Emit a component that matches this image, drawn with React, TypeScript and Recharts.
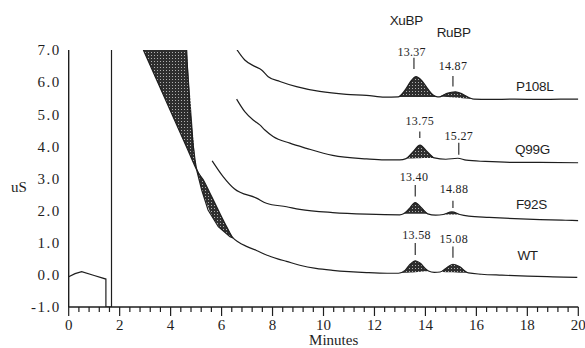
import { ComposedChart, Line, Area, XAxis, YAxis, ReferenceLine, ReferenceDot } from 'recharts'

type Pt = [number, number]
type Band = [number, number, number]

const yTicks = [-1, 0, 1, 2, 3, 4, 5, 6, 7]
const xMajorTicks = [0, 2, 4, 6, 8, 10, 12, 14, 16, 18, 20]

// WT trace: injection dip and the spike that runs off the top
const wtStart: Pt[] = [
  [0, -0.06], [0.25, 0.04], [0.51, 0.1], [1.0, -0.02], [1.46, -0.13],
  [1.46, -1.0], [1.68, -1.0], [1.68, 7.6],
]

// WT trace after it comes back down (right edge of the wedge)
const wtTrace: Pt[] = [
  [4.6, 7.6], [4.63, 7.0], [4.95, 3.63], [5.02, 3.3], [5.28, 2.96], [5.61, 2.44],
  [5.93, 1.92], [6.2, 1.5], [6.45, 1.15], [6.64, 1.03], [7.0, 0.88], [7.37, 0.76],
  [7.76, 0.62], [8.2, 0.5], [8.55, 0.42], [9.07, 0.3], [9.7, 0.2], [10.36, 0.14],
  [11.0, 0.1], [11.69, 0.07], [12.5, 0.05], [12.94, 0.05], [13.2, 0.14], [13.4, 0.33],
  [13.6, 0.44], [13.8, 0.36], [14.0, 0.19], [14.12, 0.12], [14.35, 0.08], [14.58, 0.09],
  [14.8, 0.2], [15.08, 0.33], [15.35, 0.25], [15.55, 0.12], [15.69, 0.06], [16.2, 0.02],
  [17, -0.01], [18, -0.04], [19, -0.06], [19.96, -0.08],
]

// left edge of the wedge / lens
const wedgeEdge: Pt[] = [
  [2.93, 7.0], [4.63, 3.97], [4.95, 3.39], [5.02, 3.27], [5.22, 2.64],
  [5.47, 2.02], [5.87, 1.5], [6.33, 1.19], [6.45, 1.15],
]

const f92sTrace: Pt[] = [
  [5.63, 3.55], [6.06, 3.06], [6.5, 2.68], [7.37, 2.39], [7.76, 2.23], [8.55, 2.12],
  [9.07, 2.04], [10.36, 1.94], [11.69, 1.89], [12.99, 1.87], [13.14, 1.9], [13.35, 2.05],
  [13.6, 2.25], [13.85, 2.08], [14.09, 1.9], [14.4, 1.86], [14.7, 1.88], [15.04, 1.96],
  [15.35, 1.88], [15.7, 1.83], [16.5, 1.79], [17.5, 1.75], [18.5, 1.72], [19.5, 1.7], [20, 1.69],
]

const q99gTrace: Pt[] = [
  [6.59, 5.47], [6.91, 5.08], [7.24, 4.82], [7.5, 4.67], [7.7, 4.51], [8.02, 4.31],
  [8.68, 4.1], [9.33, 3.94], [10.36, 3.72], [11.69, 3.61], [12.4, 3.58], [12.99, 3.58],
  [13.24, 3.62], [13.5, 3.82], [13.79, 4.04], [14.05, 3.85], [14.35, 3.64], [14.8, 3.6],
  [15.27, 3.63], [15.6, 3.57], [16.35, 3.53], [17.5, 3.5], [18.5, 3.5], [20, 3.49],
]

const p108lTrace: Pt[] = [
  [6.52, 7.11], [6.91, 6.69], [7.3, 6.49], [7.57, 6.38], [7.83, 6.17], [8.29, 6.02],
  [8.94, 5.86], [9.85, 5.71], [10.9, 5.62], [11.69, 5.59], [12.4, 5.53], [12.93, 5.54],
  [13.2, 5.75], [13.45, 6.05], [13.63, 6.17], [13.85, 6.05], [14.1, 5.78], [14.3, 5.6],
  [14.48, 5.54], [14.6, 5.55], [14.85, 5.65], [15.17, 5.7], [15.45, 5.63], [15.7, 5.52],
  [15.9, 5.47], [16.5, 5.46], [17.5, 5.47], [18.5, 5.46], [19.3, 5.47], [20, 5.47],
]

// shaded regions: [minutes, low, high]
const wedgeFill: Band[] = [
  [2.93, 7.0, 7.0], [4.63, 3.97, 7.0], [4.95, 3.39, 3.63], [5.02, 3.27, 3.3],
  [5.28, 2.49, 2.96], [5.61, 1.84, 2.44], [5.93, 1.46, 1.92], [6.2, 1.28, 1.5], [6.45, 1.15, 1.15],
]
const wtXuFill: Band[] = [
  [12.94, 0.05, 0.05], [13.2, 0.065, 0.14], [13.4, 0.075, 0.33], [13.6, 0.085, 0.44],
  [13.8, 0.095, 0.36], [14.0, 0.11, 0.19], [14.12, 0.12, 0.12],
]
const wtRuFill: Band[] = [
  [14.58, 0.09, 0.09], [14.8, 0.085, 0.2], [15.08, 0.08, 0.33], [15.35, 0.07, 0.25],
  [15.55, 0.065, 0.12], [15.69, 0.06, 0.06],
]
const f92sXuFill: Band[] = [
  [13.14, 1.9, 1.9], [13.35, 1.9, 2.05], [13.6, 1.9, 2.25], [13.85, 1.9, 2.08], [14.09, 1.9, 1.9],
]
const f92sRuFill: Band[] = [
  [14.7, 1.88, 1.88], [15.04, 1.88, 1.96], [15.35, 1.88, 1.88],
]
const q99gXuFill: Band[] = [
  [13.24, 3.62, 3.62], [13.5, 3.625, 3.82], [13.79, 3.63, 4.04], [14.05, 3.635, 3.85], [14.35, 3.64, 3.64],
]
const p108lXuFill: Band[] = [
  [12.93, 5.54, 5.54], [13.2, 5.54, 5.75], [13.45, 5.54, 6.05], [13.63, 5.54, 6.17],
  [13.85, 5.54, 6.05], [14.1, 5.54, 5.78], [14.3, 5.54, 5.6], [14.48, 5.54, 5.54],
]
const p108lRuFill: Band[] = [
  [14.55, 5.55, 5.55], [14.85, 5.54, 5.65], [15.17, 5.52, 5.7], [15.45, 5.5, 5.63],
  [15.7, 5.48, 5.52], [15.9, 5.47, 5.47],
]

// retention time labels: text, label position, marker from/to
const retentionLabels = [
  { text: '13.37', t: 13.46, v: 6.95, from: 6.76, to: 6.41, mt: 13.55 },
  { text: '14.87', t: 15.08, v: 6.49, from: 6.19, to: 5.86, mt: 15.08 },
  { text: '13.75', t: 13.78, v: 4.8, from: 4.46, to: 4.26, mt: 13.78 },
  { text: '15.27', t: 15.31, v: 4.31, from: 4.11, to: 3.74, mt: 15.31 },
  { text: '13.40', t: 13.55, v: 3.05, from: 2.8, to: 2.44, mt: 13.6 },
  { text: '14.88', t: 15.12, v: 2.67, from: 2.31, to: 2.08, mt: 15.08 },
  { text: '13.58', t: 13.65, v: 1.24, from: 0.99, to: 0.62, mt: 13.6 },
  { text: '15.08', t: 15.11, v: 1.12, from: 0.88, to: 0.53, mt: 15.08 },
]

const sampleLabels = [
  { text: 'P108L', t: 18.29, v: 5.85 },
  { text: 'Q99G', t: 18.2, v: 3.89 },
  { text: 'F92S', t: 18.16, v: 2.18 },
  { text: 'WT', t: 18.01, v: 0.59 },
  { text: 'XuBP', t: 13.25, v: 7.92 },
  { text: 'RuBP', t: 15.11, v: 7.53 },
]

const SERIF = '"Liberation Serif", "Times New Roman", serif'
const SANS = '"Liberation Sans", Arial, sans-serif'
const INK = '#1e1e1e'

const toPts = (arr: Pt[]) => arr.map(([t, v]) => ({ t, v }))
const toBand = (arr: Band[]) => arr.map(([t, lo, hi]) => ({ t, r: [lo, hi] }))

// minor ticks every 0.4 min between the labelled ones
const xAllTicks = xMajorTicks.flatMap((m, i) =>
  i === xMajorTicks.length - 1 ? [m] : [0, 1, 2, 3, 4].map(k => +(m + k * 0.4).toFixed(2))
)

const XTick = ({ x, y, payload }: any) => {
  const major = xMajorTicks.includes(payload.value)
  return (
    <g>
      <line x1={x} x2={x} y1={y} y2={y + (major ? 9 : 5)} stroke={INK} strokeWidth={1.2} />
      {major && (
        <text x={x} y={y + 23} textAnchor="middle" fontFamily={SERIF} fontSize={15} fill={INK}>
          {payload.value}
        </text>
      )}
    </g>
  )
}

const textLabel = (text: string, font: string, size: number, spacing = 0) => (p: any) => {
  const vb = p.viewBox
  return (
    <text
      x={vb.x + vb.width / 2}
      y={vb.y + vb.height / 2}
      textAnchor="middle"
      dominantBaseline="central"
      fontFamily={font}
      fontSize={size}
      letterSpacing={spacing}
      fill={INK}
    >
      {text}
    </text>
  )
}

export default function App() {
  const fills = [wtXuFill, wtRuFill, f92sXuFill, f92sRuFill, q99gXuFill, p108lXuFill, p108lRuFill]
  const traces = [wtTrace, f92sTrace, q99gTrace, p108lTrace]

  return (
    <div style={{ position: 'absolute', left: 0, top: 0, width: 585, height: 348, background: '#fff' }}>
      <ComposedChart width={585} height={348} margin={{ top: 50, right: 6.7, bottom: 11, left: 8.7 }}>
        <defs>
          <pattern id="stipple" width="3" height="3" patternUnits="userSpaceOnUse">
            <rect width="3" height="3" fill="#2e2e2e" />
            <rect x="1" y="1" width="1" height="1" fill="#b0b0b0" />
          </pattern>
        </defs>
        <XAxis
          type="number"
          dataKey="t"
          domain={[0, 20]}
          allowDataOverflow
          ticks={xAllTicks}
          interval={0}
          tickSize={0}
          tickMargin={0}
          tickLine={false}
          tick={<XTick />}
          axisLine={{ stroke: INK, strokeWidth: 1.4 }}
          height={30}
        />
        <YAxis
          type="number"
          domain={[-1, 7]}
          allowDataOverflow
          ticks={yTicks}
          interval={0}
          tickLine={false}
          tickFormatter={(v: number) => v.toFixed(1)}
          tick={{ fontFamily: SERIF, fontSize: 15, fill: INK, letterSpacing: 1.5 }}
          axisLine={{ stroke: INK, strokeWidth: 1.4 }}
          width={60}
        />

        <Area
          data={toBand(wedgeFill)}
          dataKey="r"
          type="linear"
          stroke="none"
          fill="url(#stipple)"
          fillOpacity={1}
          isAnimationActive={false}
        />
        {fills.map((f, i) => (
          <Area
            key={`fill-${i}`}
            data={toBand(f)}
            dataKey="r"
            type="monotone"
            stroke="none"
            fill="url(#stipple)"
            fillOpacity={1}
            isAnimationActive={false}
          />
        ))}

        <Line data={toPts(wtStart)} dataKey="v" type="linear" stroke={INK} strokeWidth={1.2} dot={false} isAnimationActive={false} />
        <Line data={toPts(wedgeEdge)} dataKey="v" type="linear" stroke={INK} strokeWidth={1.2} dot={false} isAnimationActive={false} />
        {traces.map((tr, i) => (
          <Line
            key={`trace-${i}`}
            data={toPts(tr)}
            dataKey="v"
            type="monotone"
            stroke={INK}
            strokeWidth={1.2}
            dot={false}
            isAnimationActive={false}
          />
        ))}

        {retentionLabels.map(l => (
          <ReferenceLine
            key={`m-${l.text}`}
            segment={[{ x: l.mt, y: l.from }, { x: l.mt, y: l.to }]}
            stroke={INK}
            strokeWidth={1.1}
            ifOverflow="visible"
          />
        ))}
        {retentionLabels.map(l => (
          <ReferenceDot
            key={`l-${l.text}`}
            x={l.t}
            y={l.v}
            r={0}
            fill="none"
            stroke="none"
            ifOverflow="visible"
            label={textLabel(l.text, SERIF, 12, 0.3)}
          />
        ))}
        {sampleLabels.map(l => (
          <ReferenceDot
            key={`s-${l.text}`}
            x={l.t}
            y={l.v}
            r={0}
            fill="none"
            stroke="none"
            ifOverflow="visible"
            label={textLabel(l.text, SANS, 13.5, -0.3)}
          />
        ))}
        <ReferenceDot x={-1.95} y={2.74} r={0} fill="none" stroke="none" ifOverflow="visible" label={textLabel('uS', SERIF, 15)} />
        <ReferenceDot x={10.4} y={-2.03} r={0} fill="none" stroke="none" ifOverflow="visible" label={textLabel('Minutes', SERIF, 15)} />
      </ComposedChart>
    </div>
  )
}
